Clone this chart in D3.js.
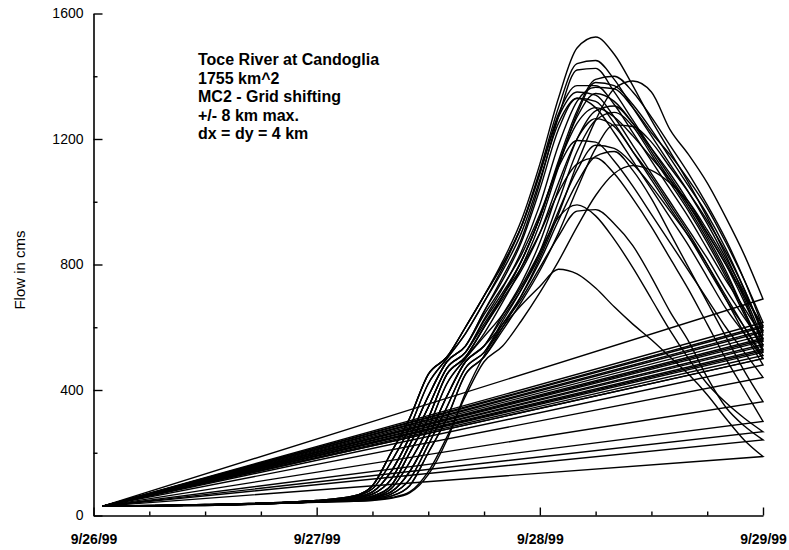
<!DOCTYPE html>
<html><head><meta charset="utf-8">
<script src="https://cdn.jsdelivr.net/npm/d3@7"></script>
<style>body{margin:0;background:#fff}svg{display:block}</style>
</head><body><svg id="c" width="789" height="550"></svg>
<script>
// hours after 9/26/99 00:00
const hours = [1,12,24,28,30,32,34,36,38,40,42,44,46,48,50,52,54,56,58,60,62,64,66,68,70,72];
const s01 = [30,35,48,62,95,200,310,450,505,600,700,810,940,1120,1330,1490,1525,1470,1370,1260,1160,1060,950,830,700,560];
const s02 = [30,34,47,60,85,170,280,420,500,580,680,790,920,1100,1300,1440,1450,1390,1300,1210,1120,1030,930,820,710,590];
const s03 = [30,34,46,57,75,140,250,380,490,540,650,760,880,1060,1270,1420,1425,1350,1260,1170,1080,990,890,780,650,520];
const s04 = [30,33,45,52,62,95,200,310,450,505,600,700,810,950,1130,1290,1390,1400,1350,1270,1180,1090,990,880,750,600];
const s05 = [30,33,44,51,58,85,170,280,420,500,580,680,790,930,1110,1280,1380,1370,1310,1230,1140,1050,960,850,720,575];
const s06 = [30,33,44,48,52,62,95,200,310,450,505,600,700,820,960,1120,1260,1360,1385,1350,1230,1150,1060,950,830,690];
const s07 = [30,34,46,55,68,115,225,345,470,520,625,725,840,990,1180,1320,1365,1360,1300,1220,1150,1070,980,870,750,615];
const s08 = [30,35,48,62,95,200,310,450,505,600,700,800,920,1090,1270,1350,1340,1270,1180,1090,1000,910,820,720,630,545];
const s09 = [30,33,45,52,62,95,200,310,450,505,600,700,810,950,1120,1270,1345,1320,1250,1160,1070,980,880,770,650,530];
const s10 = [30,34,46,57,75,140,250,380,490,540,650,750,870,1040,1230,1330,1320,1250,1160,1070,980,890,790,690,600,510];
const s11 = [30,34,47,60,85,170,280,420,500,580,680,780,900,1070,1250,1330,1300,1220,1130,1040,950,860,760,660,580,500];
const s12 = [30,33,44,50,57,75,140,250,380,490,540,640,740,870,1040,1200,1290,1305,1250,1170,1090,1000,900,800,680,555];
const s13 = [30,33,44,49,54,68,115,225,345,470,520,620,720,840,1000,1160,1260,1285,1240,1150,1060,970,870,760,640,525];
const s14 = [30,33,45,52,62,95,200,310,450,505,600,690,780,900,1060,1200,1265,1240,1160,1080,990,900,800,690,580,480];
const s15 = [30,33,44,48,52,62,95,200,310,450,505,590,680,780,900,1040,1170,1245,1240,1190,1110,1030,940,840,720,585];
const s16 = [30,34,46,57,75,140,250,380,490,540,640,730,830,960,1110,1195,1190,1130,1050,960,870,780,690,600,520,440];
const s17 = [30,33,44,50,57,75,140,250,380,490,540,630,720,830,970,1100,1180,1170,1120,1050,970,890,800,700,600,500];
const s18 = [30,34,46,55,68,115,225,345,470,520,610,700,790,900,1030,1120,1140,1090,1010,920,820,720,610,500,400,300];
const s19 = [30,32,43,46,50,57,75,140,250,380,490,540,620,710,810,920,1020,1090,1115,1100,1060,1000,910,810,690,540];
const s20 = [30,33,44,51,58,85,170,280,420,500,570,640,730,840,950,990,955,880,790,690,590,500,420,360,310,267];
const s21 = [30,33,44,50,57,75,140,250,380,490,540,610,690,790,890,970,975,930,860,760,650,555,440,345,285,241];
const s22 = [30,32,42,45,48,55,72,130,240,390,510,600,670,730,785,770,725,665,610,560,505,450,385,310,240,188];
const s23 = [30,34,46,55,68,115,225,345,470,520,620,710,810,950,1120,1250,1300,1270,1210,1140,1070,990,900,800,700,605];
const s24 = [30,35,48,62,95,200,310,450,505,600,700,800,920,1090,1280,1370,1370,1310,1220,1130,1040,950,850,750,660,565];
const s25 = [30,33,44,49,54,68,115,225,345,470,520,610,700,810,940,1060,1145,1160,1100,1010,900,790,680,570,460,363];
const seriesList = [s01,s02,s03,s04,s05,s06,s07,s08,s09,s10,s11,s12,s13,s14,s15,s16,s17,s18,s19,s20,s21,s22,s23,s24,s25];

const yMajorTicks = [0,400,800,1200,1600];
const yMinorTicks = [200,600,1000,1400];
const xDayLabels = ["9/26/99","9/27/99","9/28/99","9/29/99"];
const noteLines = ["Toce River at Candoglia","1755 km^2","MC2 - Grid shifting","+/- 8 km max.","dx = dy = 4 km"];
const yTitle = "Flow in cms";

const svg = d3.select("#c");
const t0 = new Date(1999,8,26,0,0,0);
const toDate = h => new Date(t0.getTime() + h*3600000);
const x = d3.scaleTime().domain([t0, toDate(72)]).range([93.5, 763]);
const y = d3.scaleLinear().domain([0,1600]).range([515.5, 13.5]);

const FONT = "'Liberation Sans', Arial, sans-serif";

// data lines (each closed back to its start, as in the original)
const line = d3.line().x(d => x(toDate(d[0]))).y(d => y(d[1])).curve(d3.curveMonotoneX);
svg.append("g").selectAll("path").data(seriesList).join("path")
  .attr("d", s => line(hours.map((h,i)=>[h,s[i]])) + "Z")
  .attr("fill","none").attr("stroke","#000").attr("stroke-width",1.4);

// y axis
const yAx = svg.append("g").attr("transform","translate(93.5,0)")
  .call(d3.axisLeft(y).tickValues(yMajorTicks).tickSize(-9).tickSizeOuter(0).tickPadding(10).tickFormat(d3.format("d")));
svg.append("g").attr("transform","translate(93.5,0)")
  .call(d3.axisLeft(y).tickValues(yMinorTicks).tickSize(-4).tickSizeOuter(0).tickFormat(""))
  .select(".domain").remove();
yAx.selectAll("text").attr("font-family",FONT).attr("font-size",14).attr("fill","#000");

// x axis
const dayTicks = [0,24,48,72].map(toDate);
const minorX = d3.range(6,72,6).filter(h=>h%24!==0).map(toDate);
const xAx = svg.append("g").attr("transform","translate(0,515.5)")
  .call(d3.axisBottom(x).tickValues(dayTicks).tickSize(-8).tickSizeOuter(0).tickPadding(19)
    .tickFormat((d,i)=>xDayLabels[i]));
svg.append("g").attr("transform","translate(0,515.5)")
  .call(d3.axisBottom(x).tickValues(minorX).tickSize(-4).tickSizeOuter(0).tickFormat(""))
  .select(".domain").remove();
xAx.selectAll("text").attr("font-family",FONT).attr("font-size",14).attr("font-weight","bold").attr("fill","#000");

svg.selectAll(".domain").attr("stroke","#000").attr("stroke-width",1.6);
svg.selectAll(".tick line").attr("stroke","#000").attr("stroke-width",1.4);

// y title
svg.append("text").attr("transform","translate(25,270) rotate(-90)")
  .attr("text-anchor","middle").attr("font-family",FONT).attr("font-size",15).text(yTitle);

// annotation
svg.append("g").selectAll("text").data(noteLines).join("text")
  .attr("x",198).attr("y",(d,i)=>65+i*18.5)
  .attr("font-family",FONT).attr("font-size",16).attr("font-weight","bold").text(d=>d);
</script></body></html>
